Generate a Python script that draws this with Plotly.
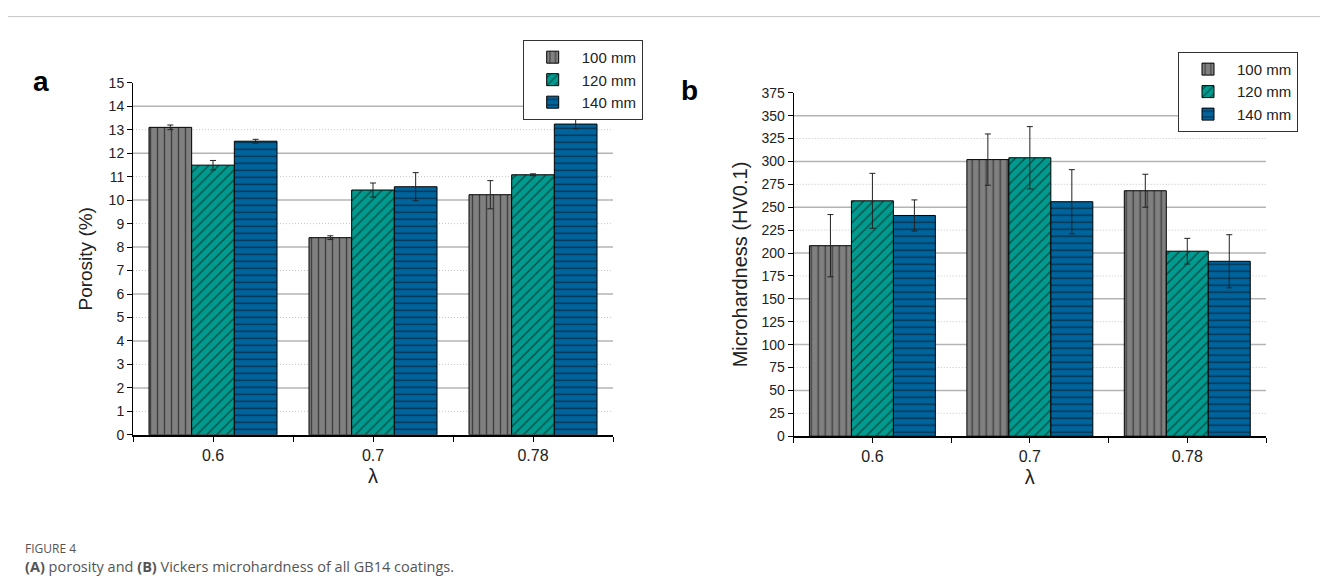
import plotly.graph_objects as go

# ---------------- data ----------------
categories = ["0.6", "0.7", "0.78"]          # lambda
series_names = ["100 mm", "120 mm", "140 mm"]

porosity = {
    "100 mm": [13.10, 8.40, 10.23],
    "120 mm": [11.49, 10.43, 11.08],
    "140 mm": [12.51, 10.57, 13.24],
}
porosity_err = {
    "100 mm": [0.10, 0.08, 0.60],
    "120 mm": [0.20, 0.30, 0.04],
    "140 mm": [0.08, 0.60, 0.20],
}
hardness = {
    "100 mm": [208, 302, 268],
    "120 mm": [257, 304, 202],
    "140 mm": [241, 256, 191],
}
hardness_err = {
    "100 mm": [34, 28, 18],
    "120 mm": [30, 34, 14],
    "140 mm": [17, 35, 29],
}

colors = {"100 mm": "#808080", "120 mm": "#009a8e", "140 mm": "#00649c"}
shapes_pat = {"100 mm": "|", "120 mm": "/", "140 mm": "-"}

W, H = 1328, 585
FONT = "Liberation Sans, Arial, sans-serif"

# map reference-pixel positions to paper fractions (page offset compensation)
OFF_X, OFF_Y, EFF_H = 8, 14, 571


def px_x(p):
    return (p - OFF_X) / W


def px_y(p):
    return 1 - (p - OFF_Y) / EFF_H


xpos = list(range(len(categories)))

fig = go.Figure()
for i, name in enumerate(series_names):
    marker = dict(
        color=colors[name],
        line=dict(color="black", width=1),
        pattern=dict(shape=shapes_pat[name], fgcolor="black", size=7,
                     solidity=0.2, fillmode="overlay"),
    )
    fig.add_trace(go.Bar(
        x=xpos, y=porosity[name], name=name, marker=marker,
        error_y=dict(type="data", array=porosity_err[name], color="#222222",
                     thickness=1, width=3),
        xaxis="x", yaxis="y", legend="legend", offsetgroup=str(i),
    ))
    fig.add_trace(go.Bar(
        x=xpos, y=hardness[name], name=name, marker=marker,
        error_y=dict(type="data", array=hardness_err[name], color="#222222",
                     thickness=1, width=3),
        xaxis="x2", yaxis="y2", legend="legend2", offsetgroup=str(i),
    ))

shapes = []
# gridlines: solid at major, dotted at minor
for v in range(1, 15):
    major = v % 2 == 0
    shapes.append(dict(type="line", xref="x domain", yref="y", x0=0, x1=1, y0=v, y1=v,
                       layer="below",
                       line=dict(color="#b4b4b4" if major else "#c4c4c4",
                                 width=1.5 if major else 1,
                                 dash="solid" if major else "1px,2px")))
for v in range(25, 375, 25):
    major = v % 50 == 0
    shapes.append(dict(type="line", xref="x2 domain", yref="y2", x0=0, x1=1, y0=v, y1=v,
                       layer="below",
                       line=dict(color="#b4b4b4" if major else "#c4c4c4",
                                 width=1.5 if major else 1,
                                 dash="solid" if major else "1px,2px")))
# outer frame
shapes.append(dict(type="rect", xref="paper", yref="paper",
                   x0=px_x(2), x1=px_x(1326), y0=-0.2, y1=min(px_y(9.5), 0.999),
                   line=dict(color="#c8c8c8", width=1), layer="below"))

xaxis_common = dict(
    type="linear", range=[-0.5, 2.5], tickvals=xpos, ticktext=categories,
    ticks="outside", ticklen=5, tickcolor="black", showline=True,
    linecolor="black", linewidth=1.5, showgrid=False, zeroline=False,
    tickfont=dict(size=16, color="#222"),
    minor=dict(tickvals=[-0.5, 0.5, 1.5, 2.5], ticks="outside", ticklen=5,
               tickcolor="black", showgrid=False),
    title=dict(text="λ", font=dict(size=20, color="#222"), standoff=6),
)
yaxis_common = dict(
    ticks="outside", ticklen=5, tickcolor="black", showline=True,
    linecolor="black", linewidth=1, showgrid=False, zeroline=False,
    tickfont=dict(size=14, color="#222"),
)

legend_common = dict(xanchor="left", yanchor="top", bgcolor="white",
                     bordercolor="#333", borderwidth=1,
                     font=dict(size=15, color="#222"), tracegroupgap=0,
                     itemwidth=48)

fig.update_layout(
    width=W, height=H,
    margin=dict(l=0, r=0, t=0, b=0),
    paper_bgcolor="white", plot_bgcolor="white",
    font=dict(family=FONT, color="#222"),
    barmode="group", bargap=0.2, bargroupgap=0,
    xaxis=dict(domain=[px_x(133), px_x(613)], anchor="y", **xaxis_common),
    yaxis=dict(domain=[px_y(434.3), px_y(81)], anchor="x", range=[0, 15], dtick=1,
               title=dict(text="Porosity (%)", font=dict(size=19, color="#222"), standoff=10),
               **yaxis_common),
    xaxis2=dict(domain=[px_x(793.7), px_x(1266)], anchor="y2", **xaxis_common),
    yaxis2=dict(domain=[px_y(435.7), px_y(91)], anchor="x2", range=[0, 375], dtick=25,
                title=dict(text="Microhardness (HV0.1)", font=dict(size=20, color="#222"), standoff=8),
                **yaxis_common),
    legend=dict(x=px_x(522.7), y=px_y(38), **legend_common),
    legend2=dict(x=px_x(1178), y=px_y(50), **legend_common),
    shapes=shapes,
    annotations=[
        dict(text="<b>a</b>", xref="paper", yref="paper", x=px_x(41), y=px_y(80),
             xanchor="center", yanchor="middle", showarrow=False,
             font=dict(size=28, color="black", family=FONT)),
        dict(text="<b>b</b>", xref="paper", yref="paper", x=px_x(690), y=px_y(89),
             xanchor="center", yanchor="middle", showarrow=False,
             font=dict(size=28, color="black", family=FONT)),
        dict(text="FIGURE 4", xref="paper", yref="paper", x=px_x(23), y=px_y(548),
             xanchor="left", yanchor="middle", showarrow=False,
             font=dict(size=12, color="#555", family="Open Sans, sans-serif")),
        dict(text="<b>(A)</b> porosity and <b>(B)</b> Vickers microhardness of all GB14 coatings.",
             xref="paper", yref="paper", x=px_x(23), y=px_y(566), xanchor="left",
             yanchor="middle", showarrow=False,
             font=dict(size=14.5, color="#555", family="Open Sans, sans-serif")),
    ],
)

fig.write_html("out.html")
